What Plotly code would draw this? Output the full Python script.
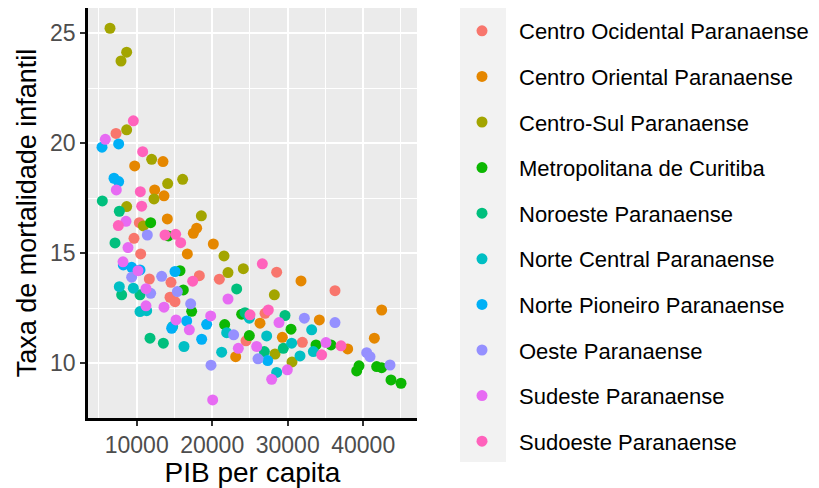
import plotly.graph_objects as go

regions = [
    "Centro Ocidental Paranaense", "Centro Oriental Paranaense", "Centro-Sul Paranaense",
    "Metropolitana de Curitiba", "Noroeste Paranaense", "Norte Central Paranaense",
    "Norte Pioneiro Paranaense", "Oeste Paranaense", "Sudeste Paranaense", "Sudoeste Paranaense",
]
colors = ["#F8766D", "#E58700", "#A3A500", "#0CB702", "#00BF7D", "#00BFC4",
          "#00B0F6", "#9590FF", "#E76BF3", "#FF62BC"]

pib_c_ocidental = [7260, 10349, 9642, 10525, 11673, 14543, 14411, 15073, 18296, 20945, 28539, 36265, 31938, 26993, 24477]
tmi_c_ocidental = [20.45, 16.39, 15.68, 14.97, 13.83, 13.68, 13.0, 12.80, 13.98, 13.82, 14.14, 13.30, 10.95, 12.27, 11.02]

pib_c_oriental = [9731, 13483, 12380, 13616, 14057, 17501, 17943, 16706, 20150, 31762, 42446, 34190, 41475, 37943, 26331, 29289, 23108]
tmi_c_oriental = [18.97, 19.17, 17.88, 17.61, 16.56, 15.91, 16.14, 14.97, 15.42, 13.74, 12.42, 11.97, 11.14, 10.65, 11.82, 11.18, 10.30]

pib_c_sul = [6464, 8671, 7921, 8671, 8671, 11982, 12291, 14102, 16088, 18561, 21563, 22093, 24124, 28230, 28318, 30570, 10879]
tmi_c_sul = [25.23, 24.14, 23.74, 20.61, 17.12, 19.27, 17.47, 18.17, 18.36, 16.70, 14.88, 14.12, 14.30, 13.11, 10.42, 10.06, 16.24]

pib_metro = [11850, 14190, 15735, 16176, 17280, 23903, 21651, 24918, 30437, 33748, 35735, 39444, 39135, 41784, 42446, 43682, 45007]
tmi_metro = [16.39, 15.79, 14.21, 13.33, 12.36, 12.23, 11.76, 11.26, 11.55, 10.83, 10.83, 9.88, 9.65, 9.85, 9.80, 9.24, 9.09]

pib_noroeste = [5448, 7700, 7126, 8009, 10437, 11762, 13528, 23241, 29642, 26905, 29422, 24344]
tmi_noroeste = [17.38, 16.91, 15.47, 13.11, 13.11, 11.14, 10.91, 13.38, 12.17, 10.53, 10.68, 12.30]

pib_n_central = [7700, 9554, 10437, 11320, 14764, 16265, 21254, 27214, 33174, 30525, 31629, 28539, 33395, 24918, 21916]
tmi_n_central = [13.48, 13.41, 12.35, 12.39, 11.67, 10.76, 10.50, 11.24, 11.52, 10.91, 10.33, 9.58, 10.53, 12.05, 11.39]

pib_n_pioneiro = [5404, 7611, 6993, 7611, 8230, 9333, 10437, 15073, 16618, 19267, 18605, 27347, 14631]
tmi_n_pioneiro = [19.82, 19.97, 18.41, 18.26, 14.47, 14.36, 14.24, 14.17, 11.92, 11.77, 11.09, 10.12, 11.59]

pib_oeste = [11408, 9333, 13307, 11850, 17148, 15382, 19841, 22843, 26066, 32203, 36265, 40459, 40901, 43550]
tmi_oeste = [15.83, 13.91, 13.95, 13.18, 12.70, 13.26, 9.91, 11.29, 10.20, 12.05, 11.85, 10.48, 10.30, 9.92]

pib_sudeste = [5845, 7302, 8583, 8848, 8186, 10172, 11232, 11232, 13616, 15205, 16971, 19797, 22093, 23461, 25890, 28848, 29951, 27877, 20062, 35073]
tmi_sudeste = [20.18, 17.88, 16.45, 15.26, 14.61, 14.21, 13.39, 12.61, 12.55, 11.97, 11.52, 12.15, 12.92, 10.68, 10.76, 11.85, 9.70, 9.27, 8.33, 10.94]

pib_sudoeste = [9554, 10790, 10481, 10658, 7567, 13748, 15161, 15823, 17413, 26640, 27435, 34499, 37060, 25007]
tmi_sudoeste = [21.02, 19.62, 17.80, 17.14, 16.26, 15.83, 15.86, 15.48, 13.73, 14.52, 12.42, 10.38, 10.79, 12.20]

xs = [pib_c_ocidental, pib_c_oriental, pib_c_sul, pib_metro, pib_noroeste,
      pib_n_central, pib_n_pioneiro, pib_oeste, pib_sudeste, pib_sudoeste]
ys = [tmi_c_ocidental, tmi_c_oriental, tmi_c_sul, tmi_metro, tmi_noroeste,
      tmi_n_central, tmi_n_pioneiro, tmi_oeste, tmi_sudeste, tmi_sudoeste]

x_ticks = [10000, 20000, 30000, 40000]
y_ticks = [10, 15, 20, 25]

fig = go.Figure()
for name, col, x, y in zip(regions, colors, xs, ys):
    fig.add_trace(go.Scatter(
        x=x, y=y, mode="markers", name=name, legendgroup=name,
        marker=dict(color=col, size=11, line=dict(width=0)),
    ))

# page has an 8px body margin, so the figure is 8px smaller and offset
W, H = 811, 480
L, R, T, B = 80, 409, 0, 410
pw, ph = R - L, B - T

def px2paper_x(px):
    return (px - L) / pw

def px2paper_y(py):
    return (B - py) / ph

fig.add_shape(type="rect", xref="paper", yref="paper",
              x0=px2paper_x(452), x1=px2paper_x(498),
              y0=px2paper_y(454), y1=px2paper_y(0),
              fillcolor="#F2F2F2", line=dict(width=0), layer="below")

fig.update_layout(
    width=W, height=H,
    margin=dict(l=L, r=W - R, t=T, b=H - B, pad=0),
    paper_bgcolor="white", plot_bgcolor="#EBEBEB",
    font=dict(family="Liberation Sans, Arial, sans-serif", color="black"),
    showlegend=True,
    legend=dict(
        x=px2paper_x(437), y=px2paper_y(2), xanchor="left", yanchor="top",
        maxheight=475,
        bgcolor="rgba(0,0,0,0)", font=dict(size=22, color="black"),
        tracegroupgap=14, itemwidth=64,
    ),
)
fig.update_xaxes(
    range=[3550, 47125], tickvals=x_ticks, ticktext=[str(v) for v in x_ticks],
    showgrid=True, gridcolor="white", gridwidth=2,
    minor=dict(dtick=5000, tick0=0, showgrid=True, gridcolor="white", gridwidth=1),
    showline=True, linecolor="black", linewidth=2.5,
    ticks="outside", ticklen=5, tickcolor="#333333", tickwidth=1.5,
    tickfont=dict(size=23, color="#4D4D4D"),
    title=dict(text="PIB per capita", font=dict(size=28, color="black"), standoff=0),
    zeroline=False,
)
fig.update_yaxes(
    range=[7.51, 26.15], tickvals=y_ticks, ticktext=[str(v) for v in y_ticks],
    showgrid=True, gridcolor="white", gridwidth=2,
    minor=dict(dtick=2.5, tick0=0, showgrid=True, gridcolor="white", gridwidth=1),
    showline=True, linecolor="black", linewidth=2.5,
    ticks="outside", ticklen=5, tickcolor="#333333", tickwidth=1.5,
    tickfont=dict(size=23, color="#4D4D4D"),
    title=dict(text="Taxa de mortalidade infantil", font=dict(size=27, color="black"), standoff=6),
    zeroline=False,
)

fig.write_html("out.html")
